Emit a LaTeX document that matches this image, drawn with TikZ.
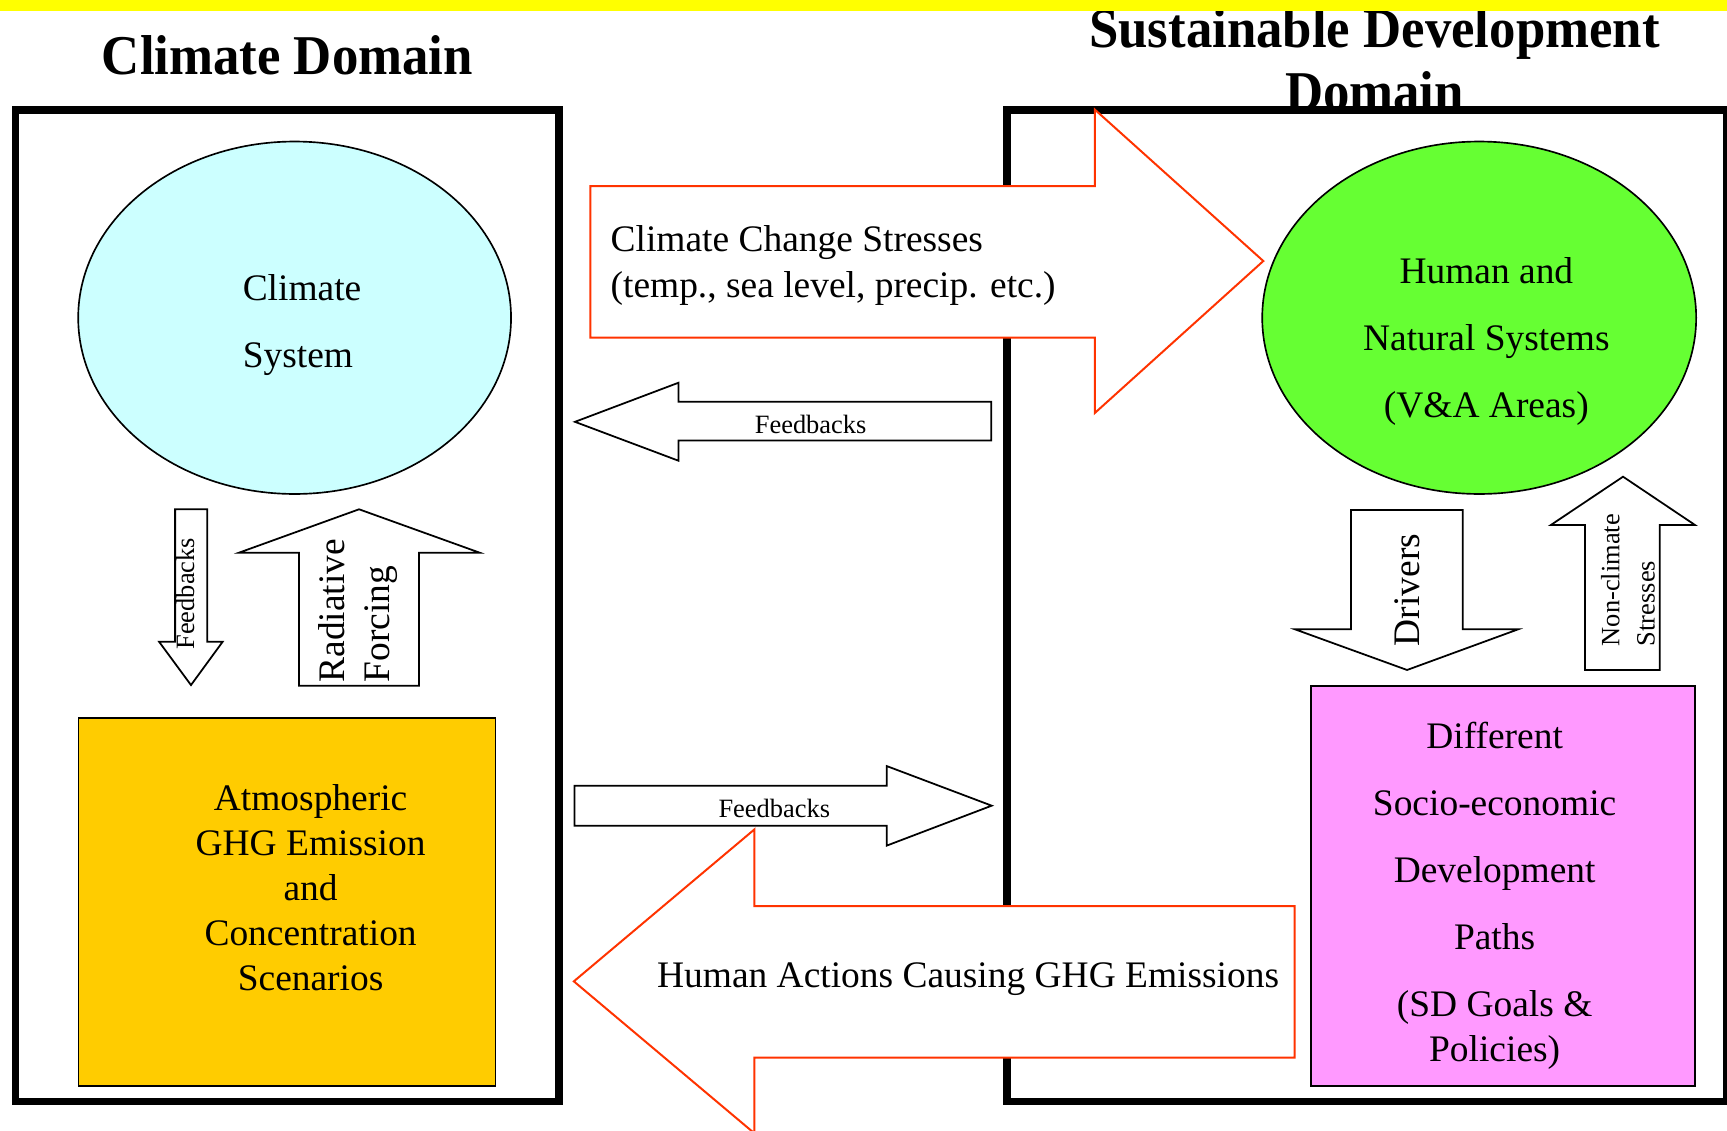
\documentclass[tikz,border=0pt]{standalone}
\usepackage{fontspec}
\setmainfont{Liberation Serif}
\newfontfamily\titlefont[FakeStretch=0.94]{Liberation Serif}

\definecolor{bannerYellow}{HTML}{FFFF00}
\definecolor{climateCyan}{HTML}{CCFFFF}
\definecolor{systemGreen}{HTML}{66FF33}
\definecolor{ghgGold}{HTML}{FFCC00}
\definecolor{pathPink}{HTML}{FF99FF}
\definecolor{stressRed}{HTML}{FF3300}

\begin{document}
\begin{tikzpicture}[x=0.5pt,y=-0.5pt,
  titletext/.style={font=\titlefont\bfseries\fontsize{25.5}{28.5}\selectfont, inner sep=0pt},
  bodytext/.style={font=\fontsize{17}{20.5}\selectfont, inner sep=0pt},
  widetext/.style={font=\fontsize{17}{30.5}\selectfont, inner sep=0pt},
  smalltext/.style={font=\fontsize{12}{16}\selectfont, inner sep=0pt},
  domainframe/.style={draw=black, line width=3.5pt},
  outlined/.style={draw=black, line width=0.75pt},
  blockarrow/.style={draw=black, fill=white, line width=0.8pt},
  stressarrow/.style={draw=stressRed, fill=white, line width=0.9pt},
]
\useasboundingbox (0,0) rectangle (1568,1026);

% headings (the frames are drawn over their lower edge)
\node[titletext, anchor=base] (climtitle) at (261,68) {Climate Domain};
\node[titletext, align=center] (sdtitle) at (1248,54) {Sustainable Development\\Domain};

% banner strip along the top
\fill[bannerYellow] (0,0) rectangle (1568,10);

% the two domain frames
\draw[domainframe] (14,100) rectangle (507.5,1000);
\draw[domainframe] (914,100) rectangle (1568,1000);

% climate domain contents
\draw[outlined, fill=climateCyan] (267.5,288.5) ellipse [x radius=196.5, y radius=160];
\node[widetext, align=left, anchor=west] (climsys) at (220,295) {Climate\\System};

\draw[outlined, fill=ghgGold] (71.2,651.6) rectangle (450,986);
\node[bodytext, align=center] (ghg) at (282,806)
  {Atmospheric\\GHG Emission\\and\\Concentration\\Scenarios};

% feedbacks: climate system down to scenarios
\draw[blockarrow] (159,462.4) -- (188.2,462.4) -- (188.2,582.6) -- (202.2,582.6)
  -- (173.4,622) -- (144.4,582.6) -- (159,582.6) -- cycle;
\node[smalltext, rotate=90] (fbdown) at (168,539) {Feedbacks};

% radiative forcing: scenarios up to climate system
\draw[blockarrow] (271.5,622.6) -- (271.5,501.8) -- (217,501.8) -- (326,462.4)
  -- (435.5,501.8) -- (380.5,501.8) -- (380.5,622.6) -- cycle;
\node[bodytext, rotate=90, align=left, anchor=west] (radforcing) at (325,620)
  {Radiative\\Forcing};

% sustainable development domain contents
\draw[outlined, fill=systemGreen] (1343,288.5) ellipse [x radius=197, y radius=160];
\node[widetext, align=center] (natsys) at (1349.5,310)
  {Human and\\Natural Systems\\(V\&A Areas)};

\draw[outlined, fill=pathPink] (1190,622.8) rectangle (1539,986);
\node[font=\fontsize{17}{20}\selectfont, inner sep=0pt, align=center] (sdpaths) at (1357,813)
  {Different\\[10.5pt]Socio-economic\\[10.5pt]Development\\[10.5pt]Paths\\[10.5pt](SD Goals \&\\Policies)};

% drivers: systems down to development paths
\draw[blockarrow] (1226.6,463) -- (1328,463) -- (1328,571.4) -- (1378.3,571.4)
  -- (1277.5,608.3) -- (1175.8,571.4) -- (1226.6,571.4) -- cycle;
\node[bodytext, rotate=90, anchor=west] (drivers) at (1278,587) {Drivers};

% non-climate stresses: development paths up to systems
\draw[blockarrow] (1439,608.3) -- (1439,476.7) -- (1408,476.7) -- (1473.6,432.8)
  -- (1539,476.7) -- (1507,476.7) -- (1507,608.3) -- cycle;
\node[smalltext, rotate=90, align=left, anchor=west] (nonclimate) at (1478,587)
  {Non-climate\\Stresses};

% cross-domain feedbacks
\draw[blockarrow] (900,364.7) -- (616,364.7) -- (616,347.5) -- (522,383)
  -- (616,418.3) -- (616,400) -- (900,400) -- cycle;
\node[smalltext] (fbleft) at (736,385.5) {Feedbacks};

\draw[blockarrow] (521.5,713.3) -- (805,713.3) -- (805,695.5) -- (900.4,731.5)
  -- (805,767.8) -- (805,749.7) -- (521.5,749.7) -- cycle;
\node[smalltext] (fbright) at (703,734) {Feedbacks};

% climate change stresses into the development domain
\draw[stressarrow] (536,169) -- (994,169) -- (994,99.5) -- (1147,237)
  -- (994,375) -- (994,306.5) -- (536,306.5) -- cycle;
\node[bodytext, align=left, anchor=west] (stresses) at (554,241)
  {Climate Change Stresses\\(temp., sea level, precip. etc.)};

% human actions back into the climate domain
\draw[stressarrow] (1175.5,822.6) -- (685,822.6) -- (685,753) -- (521,891)
  -- (685,1029) -- (685,960.3) -- (1175.5,960.3) -- cycle;
\node[bodytext] (actions) at (879,889) {Human Actions Causing GHG Emissions};

\end{tikzpicture}
\end{document}
